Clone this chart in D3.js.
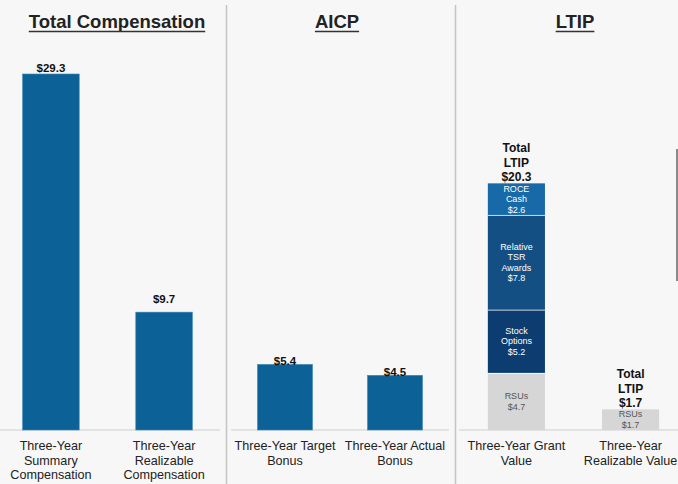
<!DOCTYPE html>
<html>
<head>
<meta charset="utf-8">
<script src="https://cdn.jsdelivr.net/npm/d3@7"></script>
<style>
  body { margin: 0; background: #f7f7f7; }
  svg { display: block; font-family: Arial, "Liberation Sans", sans-serif; }
</style>
</head>
<body>
<div id="chart"></div>
<script>
// values in $ millions
var compCategories = [["Three-Year", "Summary", "Compensation"], ["Three-Year", "Realizable", "Compensation"]];
var compValues = [29.3, 9.7];

var aicpCategories = [["Three-Year Target", "Bonus"], ["Three-Year Actual", "Bonus"]];
var aicpValues = [5.4, 4.5];

var ltipCategories = [["Three-Year Grant", "Value"], ["Three-Year", "Realizable Value"]];
var ltipSegments = ["RSUs", "Stock Options", "Relative TSR Awards", "ROCE Cash"];
var ltipGrant = [4.7, 5.2, 7.8, 2.6];
var ltipRealizable = [1.7, 0, 0, 0];
var ltipTotals = [20.3, 1.7];
var segLabels = [["RSUs"], ["Stock", "Options"], ["Relative", "TSR", "Awards"], ["ROCE", "Cash"]];
var segColors = ["#d6d6d6", "#0c3c70", "#134f82", "#1769a8"];
var segText = ["#555", "#fff", "#fff", "#fff"];

var W = 678, H = 484, base = 430;
var barColor = "#0c6196";

var svg = d3.select("#chart").append("svg")
  .attr("width", W).attr("height", H);

svg.append("rect").attr("width", W).attr("height", H).attr("fill", "#f7f7f7");

var y = d3.scaleLinear().domain([0, 30]).range([base, base - 364.5]);

// dividers
[226.5, 455.5].forEach(function(x) {
  svg.append("line").attr("x1", x).attr("x2", x).attr("y1", 5).attr("y2", H)
    .attr("stroke", "#c4c4c4").attr("stroke-width", 1.5);
});
svg.append("line").attr("x1", 677).attr("x2", 677).attr("y1", 149).attr("y2", 281)
  .attr("stroke", "#666").attr("stroke-width", 1.5);

// baselines
[[0, 220], [231, 449], [459, 678]].forEach(function(r) {
  svg.append("line").attr("x1", r[0]).attr("x2", r[1]).attr("y1", base).attr("y2", base)
    .attr("stroke", "#dcdcdc").attr("stroke-width", 1.5);
});

// titles
function title(text, cx) {
  var t = svg.append("text").attr("x", cx).attr("y", 28)
    .attr("text-anchor", "middle").attr("font-size", 18.5).attr("font-weight", "bold")
    .attr("fill", "#222").text(text);
  var w = t.node().getComputedTextLength();
  svg.append("line").attr("x1", cx - w / 2).attr("x2", cx + w / 2)
    .attr("y1", 31.5).attr("y2", 31.5).attr("stroke", "#333").attr("stroke-width", 1.6);
}
title("Total Compensation", 117);
title("AICP", 337);
title("LTIP", 575);

function catLabels(x, cats) {
  cats.forEach(function(lines, i) {
    var t = svg.append("text").attr("text-anchor", "middle")
      .attr("font-size", 12.6).attr("fill", "#222");
    lines.forEach(function(l, j) {
      t.append("tspan").attr("x", x(i) + x.bandwidth() / 2)
        .attr("y", 450 + j * 14.5).text(l);
    });
  });
}

function simplePanel(range, po, cats, vals, labelGap) {
  var x = d3.scaleBand().domain(d3.range(vals.length)).range(range)
    .paddingInner(0.5).paddingOuter(po);
  svg.selectAll(null).data(vals).enter().append("rect")
    .attr("x", function(d, i) { return x(i); })
    .attr("y", function(d) { return y(d); })
    .attr("width", x.bandwidth())
    .attr("height", function(d) { return base - y(d); })
    .attr("fill", barColor).attr("stroke", "#3b87bb").attr("stroke-width", 0.6);
  svg.selectAll(null).data(vals).enter().append("text")
    .attr("x", function(d, i) { return x(i) + x.bandwidth() / 2; })
    .attr("y", function(d, i) { return y(d) - labelGap[i]; })
    .attr("text-anchor", "middle").attr("font-size", 11.5).attr("font-weight", "bold")
    .attr("fill", "#111").text(function(d) { return "$" + d.toFixed(1); });
  catLabels(x, cats);
}

simplePanel([0, 215], 0.2, compCategories, compValues, [2, 9]);
simplePanel([235.5, 444.5], 0.2, aicpCategories, aicpValues, [-1, -1]);

// LTIP stacked
var xl = d3.scaleBand().domain([0, 1]).range([465, 682]).paddingInner(0.5).paddingOuter(0.2);
var stacks = [ltipGrant, ltipRealizable];
stacks.forEach(function(vals, bi) {
  var cum = 0;
  vals.forEach(function(v, si) {
    if (v <= 0) return;
    var y0 = y(cum), y1 = y(cum + v);
    cum += v;
    svg.append("rect").attr("x", xl(bi)).attr("y", y1)
      .attr("width", xl.bandwidth()).attr("height", y0 - y1)
      .attr("fill", segColors[si]);
    if (cum < d3.sum(vals)) {
      svg.append("line").attr("x1", xl(bi)).attr("x2", xl(bi) + xl.bandwidth())
        .attr("y1", y1).attr("y2", y1).attr("stroke", "#fff").attr("stroke-width", 1.5);
    }
    var lines = segLabels[si].concat(["$" + v.toFixed(1)]);
    var lh = 10.5;
    var cy = (y0 + y1) / 2 - (lines.length - 1) * lh / 2 + 3;
    var t = svg.append("text").attr("text-anchor", "middle")
      .attr("font-size", 9).attr("fill", segText[si]);
    lines.forEach(function(l, j) {
      t.append("tspan").attr("x", xl(bi) + xl.bandwidth() / 2)
        .attr("y", cy + j * lh).text(l);
    });
  });
  var tt = svg.append("text").attr("text-anchor", "middle")
    .attr("font-size", 12).attr("font-weight", "bold").attr("fill", "#111");
  ["Total", "LTIP", "$" + ltipTotals[bi].toFixed(1)].forEach(function(l, j) {
    tt.append("tspan").attr("x", xl(bi) + xl.bandwidth() / 2)
      .attr("y", y(ltipTotals[bi]) - 2 - (2 - j) * 14.5).text(l);
  });
});
catLabels(xl, ltipCategories);
</script>
</body>
</html>
